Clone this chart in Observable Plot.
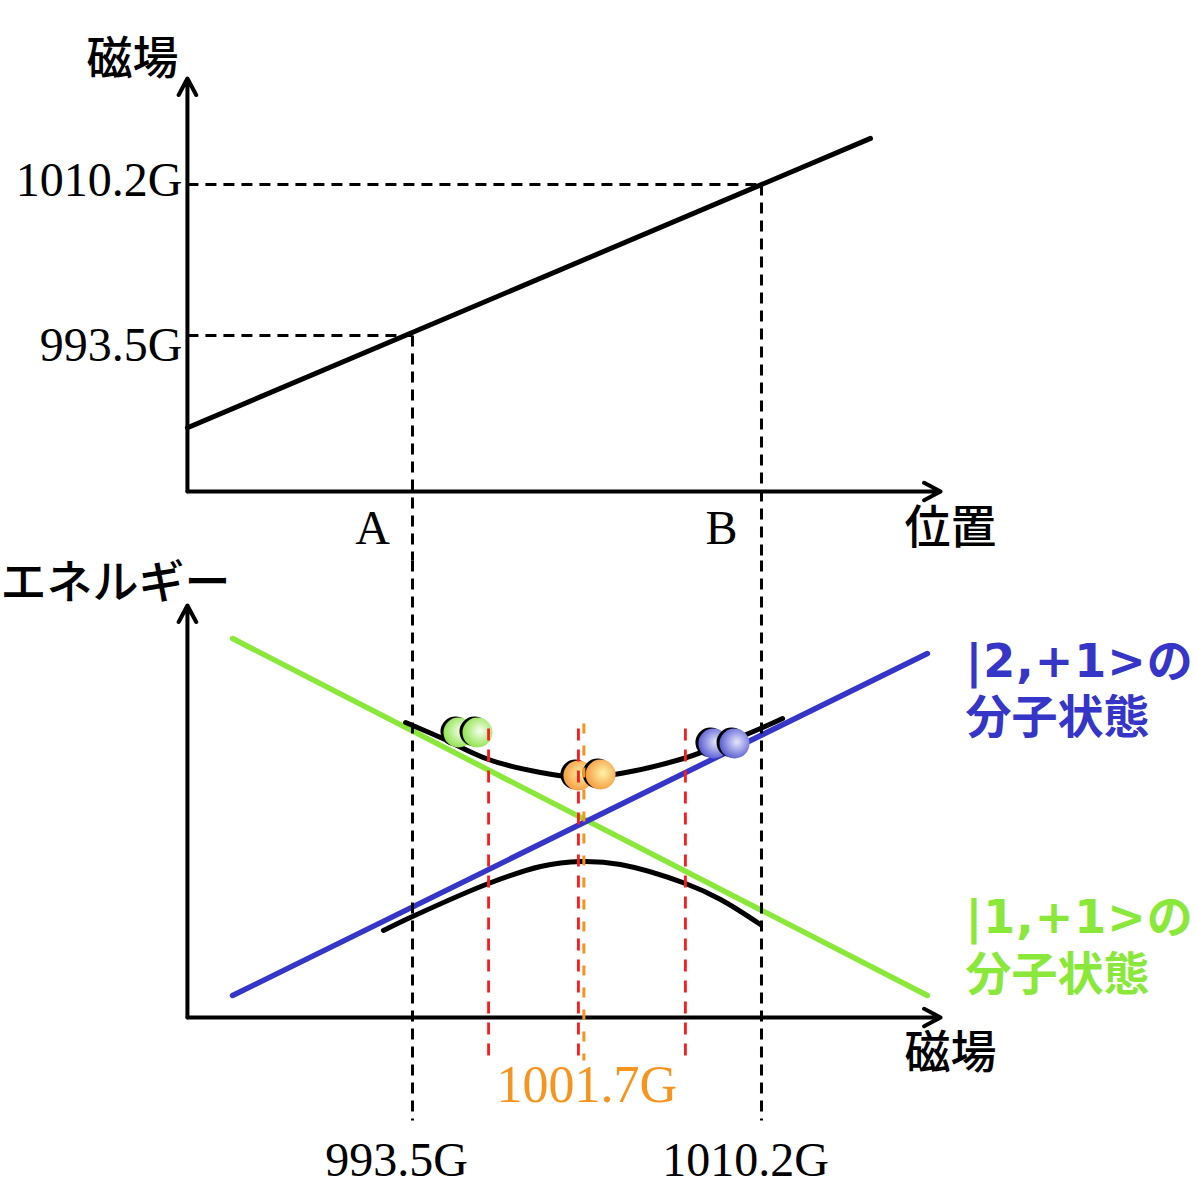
<!DOCTYPE html>
<html><head><meta charset="utf-8">
<script src="https://cdn.jsdelivr.net/npm/d3@7"></script>
<script src="https://cdn.jsdelivr.net/npm/@observablehq/plot@0.6"></script>
<style>
html,body{margin:0;padding:0;background:#fff;}
#chart svg{display:block;}
</style></head><body><div id="chart"></div>
<script>
// ---------------- data ----------------
const fieldTicks = [993.5, 1010.2];                 // G
const fieldTickLabels = ["993.5G", "1010.2G"];
const positionLabels = ["A", "B"];
const resonanceField = 1001.7;
const resonanceLabel = "1001.7G";
const redGuideFields = [997.14, 1001.44, 1006.56];

// top panel: field vs position (position expressed on the same axis as field)
const fieldLinePos = [982.73, 1015.42];
const fieldLineB = [983.3, 1015.3];

// bottom panel: energy (arbitrary units) vs field
const stateLineField = [984.89, 1018.14];
const state11Energy = [37.9, 2.2];     // |1,+1>
const state21Energy = [2.2, 36.4];     // |2,+1>
const lowerCurveField = [992.11, 993.5, 997.14, 999.63, 1001.54, 1003.45, 1006.56, 1008.24, 1010.15];
const lowerCurveEnergy = [8.7, 10.1, 13.4, 15.1, 15.6, 15.3, 13.4, 11.8, 9.3];
const upperCurveField = [993.17, 994.84, 997.14, 999.63, 1001.54, 1003.45, 1006.47, 1008.05, 1010.15, 1011.21];
const upperCurveEnergy = [29.5, 28.0, 25.8, 24.5, 24.0, 24.4, 25.9, 27.1, 28.9, 29.9];
const ballGroups = ["green", "orange", "blue"];
const ballField = [[995.70, 996.61], [1001.44, 1002.50], [1007.90, 1008.91]];
const ballEnergy = [[28.5, 28.5], [24.2, 24.3], [27.4, 27.4]];
const stateLabels21 = ["|2,+1>の", "分子状態"];
const stateLabels11 = ["|1,+1>の", "分子状態"];
const axisTitles = {topY: "磁場", topX: "位置", bottomY: "エネルギー", bottomX: "磁場"};

// ---------------- layout ----------------
const W = 1197, H1 = 560, H2 = 624;
const xScale = {domain: [973.785, 1031.064], range: [0, W], axis: null};
const originX = 982.73;
const xTip = 1018.77;
const topOriginY = 976.247, topYTip = 1021.92, topYMin = 968.616, topYMax = 1030.55;
const botYMin = -16.7, botYMax = 45.7, botYTip = 41.2;

const SERIF = "'Liberation Serif', 'Times New Roman', serif";
const CJK = "'Noto Sans CJK JP', sans-serif";
const BOLD = "'DejaVu Sans', 'Noto Sans CJK JP', sans-serif";
const BLUE = "#3535c8", GREEN = "#8ae83a", ORANGE = "#f7941d";
const dashBlack = {stroke: "black", strokeWidth: 3, strokeDasharray: "11,7"};
const axisStyle = {stroke: "black", strokeWidth: 4, headAngle: 56, headLength: 7};

// ---------------- top panel ----------------
const topGuides = [
  {x1: originX, y1: fieldTicks[1], x2: fieldTicks[1], y2: fieldTicks[1]},
  {x1: originX, y1: fieldTicks[0], x2: fieldTicks[0], y2: fieldTicks[0]},
  {x1: fieldTicks[0], y1: fieldTicks[0], x2: fieldTicks[0], y2: topYMin},
  {x1: fieldTicks[1], y1: fieldTicks[1], x2: fieldTicks[1], y2: topYMin}
];
const tickRows = fieldTicks.map((v, i) => ({v, t: fieldTickLabels[i], p: positionLabels[i]}));
const topPlot = Plot.plot({
  width: W, height: H1, margin: 0,
  x: xScale,
  y: {domain: [topYMin, topYMax], range: [H1, 0], axis: null},
  style: {background: "white", overflow: "visible"},
  marks: [
    Plot.link(topGuides, {x1: "x1", y1: "y1", x2: "x2", y2: "y2", ...dashBlack}),
    Plot.arrow([{x1: originX, y1: topOriginY, x2: originX, y2: topYTip},
                {x1: originX, y1: topOriginY, x2: xTip, y2: topOriginY}],
      {x1: "x1", y1: "y1", x2: "x2", y2: "y2", ...axisStyle}),
    Plot.line(fieldLinePos.map((p, i) => ({p, b: fieldLineB[i]})), {x: "p", y: "b", stroke: "black", strokeWidth: 5}),
    Plot.text(tickRows.slice(0, 1), {x: originX, y: "v", text: "t", textAnchor: "end", dx: -5, dy: 10,
      fontFamily: SERIF, fontSize: 48, fill: "black"}),
    Plot.text(tickRows.slice(1, 2), {x: originX, y: "v", text: "t", textAnchor: "end", dx: -5, dy: -4,
      fontFamily: SERIF, fontSize: 48, fill: "black"}),
    Plot.text(tickRows, {x: "v", y: topOriginY, text: "p", dx: -40, dy: 37,
      fontFamily: SERIF, fontSize: 48, fill: "black"}),
    Plot.text([axisTitles.topY], {x: originX, y: topYTip, text: d => d, dx: -55, dy: -19,
      fontFamily: CJK, fontWeight: 500, fontSize: 46, fill: "black"}),
    Plot.text([axisTitles.topX], {x: xTip, y: topOriginY, text: d => d, dx: 10, dy: 37,
      fontFamily: CJK, fontWeight: 500, fontSize: 46, fill: "black"})
  ]
});

// ---------------- bottom panel ----------------
const rows = (xs, ys) => xs.map((x, i) => ({x, y: ys[i]}));
const blackGuides = fieldTicks.map(f => ({x1: f, y1: botYMax, x2: f, y2: -10.3}));
const redGuides = redGuideFields.map(f => ({x1: f, y1: 28.9, x2: f, y2: -4.3}));
const orangeGuide = [{x1: resonanceField, y1: 29.4, x2: resonanceField, y2: -4.3}];

const ballMarks = [];
ballGroups.forEach((g, gi) => {
  ballField[gi].forEach((f, bi) => {
    const d = [{x: f, y: ballEnergy[gi][bi]}];
    ballMarks.push(Plot.dot(d, {x: "x", y: "y", r: 15, fill: "black", dx: -3, dy: -1}));
    ballMarks.push(Plot.dot(d, {x: "x", y: "y", r: 15, fill: `url(#ball-${g})`}));
  });
});
const labelFont = {fontFamily: BOLD, fontWeight: "bold", fontSize: 46, textAnchor: "start"};

const botPlot = Plot.plot({
  width: W, height: H2, margin: 0,
  x: xScale,
  y: {domain: [botYMin, botYMax], range: [H2, 0], axis: null},
  style: {background: "white", overflow: "visible"},
  marks: [
    Plot.arrow([{x1: originX, y1: 0, x2: originX, y2: botYTip},
                {x1: originX, y1: 0, x2: xTip, y2: 0}],
      {x1: "x1", y1: "y1", x2: "x2", y2: "y2", ...axisStyle}),
    Plot.line(rows(stateLineField, state11Energy), {x: "x", y: "y", stroke: GREEN, strokeWidth: 5.5}),
    Plot.line(rows(stateLineField, state21Energy), {x: "x", y: "y", stroke: BLUE, strokeWidth: 5.5}),
    Plot.line(rows(lowerCurveField, lowerCurveEnergy), {x: "x", y: "y", stroke: "black", strokeWidth: 5, curve: "catmull-rom"}),
    Plot.line(rows(upperCurveField, upperCurveEnergy), {x: "x", y: "y", stroke: "black", strokeWidth: 5, curve: "catmull-rom"}),
    ...ballMarks,
    Plot.link(blackGuides, {x1: "x1", y1: "y1", x2: "x2", y2: "y2", ...dashBlack}),
    Plot.link(redGuides, {x1: "x1", y1: "y1", x2: "x2", y2: "y2", stroke: "#ff1a1a", strokeWidth: 2.8, strokeDasharray: "12,9"}),
    Plot.link(orangeGuide, {x1: "x1", y1: "y1", x2: "x2", y2: "y2", stroke: ORANGE, strokeWidth: 3, strokeDasharray: "10,12"}),
    Plot.text([resonanceLabel], {x: resonanceField, y: -6.8, text: d => d, fontFamily: SERIF, fontSize: 52, fill: ORANGE, dx: 3}),
    Plot.text(tickRows, {x: "v", y: -14.3, text: "t", dx: -16, fontFamily: SERIF, fontSize: 48, fill: "black"}),
    Plot.text([axisTitles.bottomY], {x: originX, y: botYTip, text: d => d, dx: -72, dy: -22,
      fontFamily: CJK, fontWeight: 500, fontSize: 46, fill: "black"}),
    Plot.text([axisTitles.bottomX], {x: xTip, y: 0, text: d => d, dx: 10, dy: 36,
      fontFamily: CJK, fontWeight: 500, fontSize: 46, fill: "black"}),
    Plot.text(stateLabels21, {x: 1019.96, y: (d, i) => [35.5, 29.9][i], text: d => d, ...labelFont, fill: BLUE}),
    Plot.text(stateLabels11, {x: 1019.96, y: (d, i) => [9.9, 4.2][i], text: d => d, ...labelFont, fill: GREEN})
  ]
});
d3.select(botPlot).selectAll("text").filter(function() { return /^\|/.test(d3.select(this).text()); })
  .style("letter-spacing", "1px");

const ballColors = {green: ["#f6fff0", "#8ee24a"], orange: ["#fff2a8", "#f59a3c"], blue: ["#e4e6fb", "#5659d2"]};
const defs = d3.select(botPlot).insert("defs", ":first-child");
for (const [k, [c0, c1]] of Object.entries(ballColors)) {
  const g = defs.append("radialGradient").attr("id", `ball-${k}`).attr("cx", "58%").attr("cy", "45%").attr("r", "60%");
  g.append("stop").attr("offset", "0%").attr("stop-color", c0);
  g.append("stop").attr("offset", "100%").attr("stop-color", c1);
}

document.getElementById("chart").append(topPlot, botPlot);
</script></body></html>
